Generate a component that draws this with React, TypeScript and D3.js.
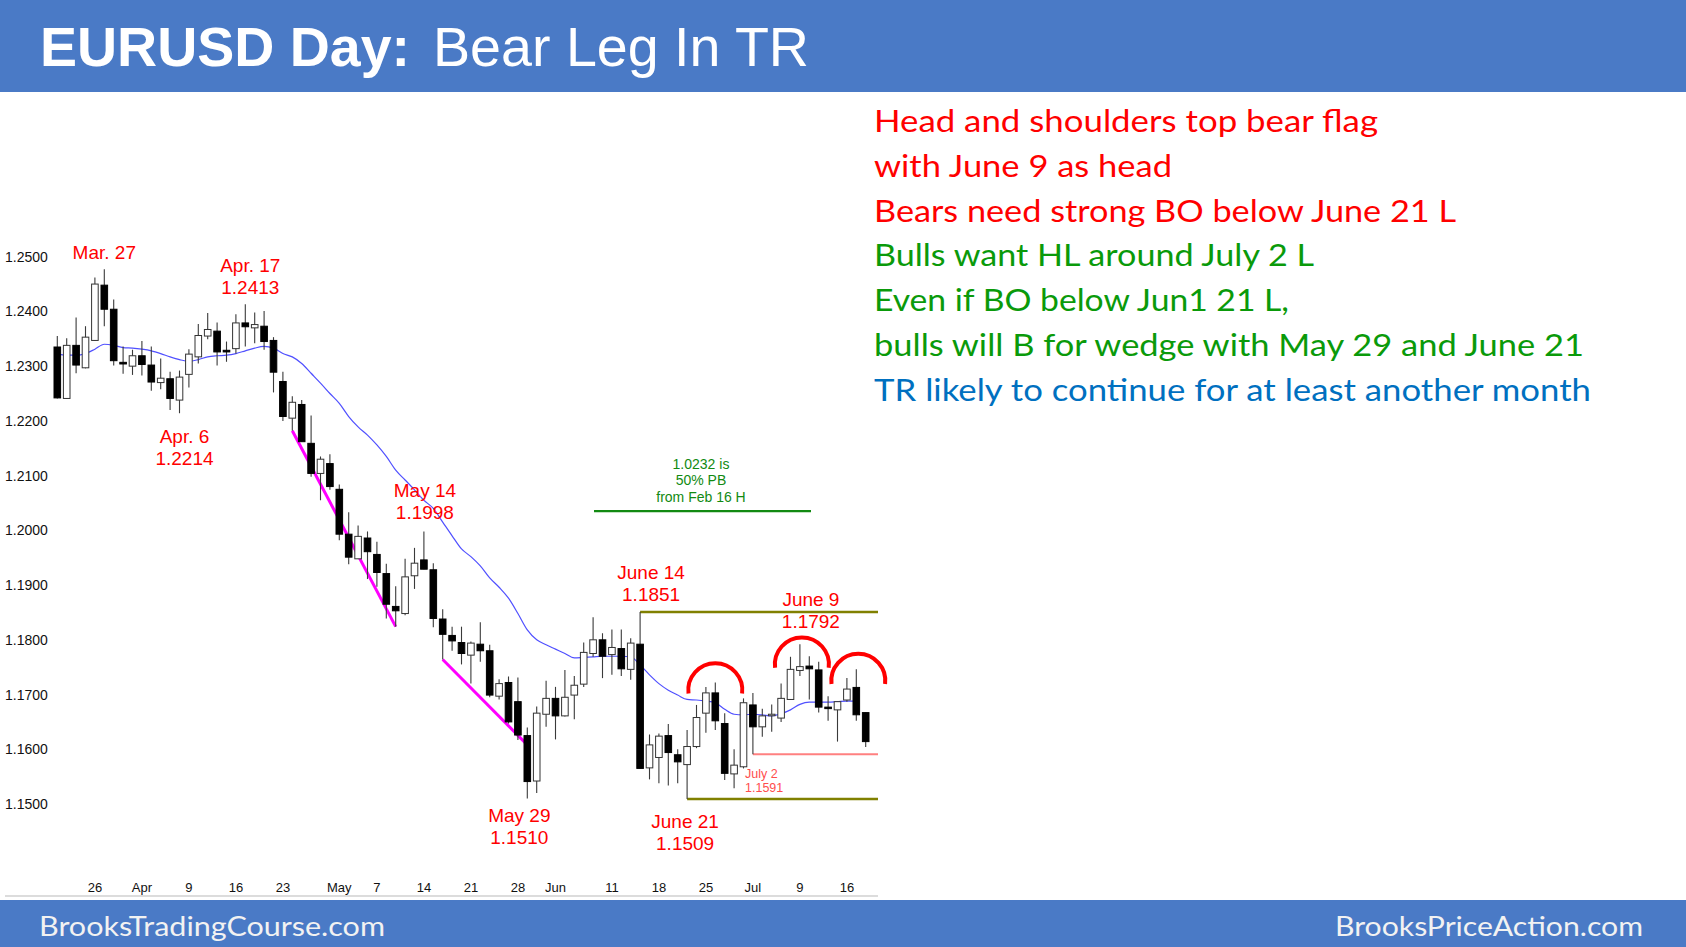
import * as d3 from "d3";

const W = 1686;
const H = 947;
const BLUE_BAR = "#4a7ac6";
const RED = "#ff0000";
const GREEN = "#0a9a0a";
const TEXT_BLUE = "#0070c0";

// daily candles, Mar 20 .. Jul 18 (weekdays)
const opens = [
  1.2335, 1.2241, 1.2338, 1.2297, 1.2347, 1.2448, 1.2404, 1.2307, 1.23, 1.2319,
  1.2302, 1.227, 1.2277, 1.2238, 1.2285, 1.2317, 1.2355, 1.2364, 1.2329, 1.2332,
  1.2379, 1.237, 1.2373, 1.2347, 1.2272, 1.2205, 1.223, 1.2159, 1.2104, 1.2122,
  1.2075, 1.1993, 1.1948, 1.1986, 1.1956, 1.1921, 1.1861, 1.1848, 1.1917, 1.1946,
  1.1928, 1.1838, 1.1808, 1.1795, 1.1772, 1.1792, 1.178, 1.1697, 1.1722, 1.1687,
  1.1625, 1.1542, 1.1664, 1.1693, 1.1661, 1.1699, 1.1719, 1.1775, 1.18, 1.1773,
  1.1784, 1.1746, 1.1792, 1.1566, 1.1585, 1.1625, 1.159, 1.1572, 1.1605, 1.1666,
  1.1703, 1.1647, 1.1555, 1.1568, 1.1681, 1.1641, 1.1662, 1.1657, 1.1691, 1.1744,
  1.1752, 1.1745, 1.1677, 1.1672, 1.169, 1.1713, 1.1667,
];
const highs = [
  1.2355, 1.2351, 1.2389, 1.2373, 1.2462, 1.2477, 1.2422, 1.2336, 1.233, 1.2346,
  1.2336, 1.2314, 1.229, 1.2292, 1.2331, 1.2377, 1.2397, 1.238, 1.2345, 1.2395,
  1.2413, 1.2398, 1.2401, 1.2353, 1.229, 1.2245, 1.2238, 1.221, 1.2135, 1.2139,
  1.2084, 1.2033, 1.2009, 1.1998, 1.1979, 1.1939, 1.1898, 1.1948, 1.1968, 1.1998,
  1.194, 1.1856, 1.1824, 1.1824, 1.1797, 1.1832, 1.1791, 1.1728, 1.1733, 1.1731,
  1.164, 1.1678, 1.1725, 1.1714, 1.1745, 1.1734, 1.1795, 1.1841, 1.1812, 1.1819,
  1.1819, 1.1803, 1.1851, 1.1627, 1.1629, 1.1646, 1.16, 1.1635, 1.1681, 1.1714,
  1.1722, 1.1666, 1.16, 1.1693, 1.1703, 1.1674, 1.1682, 1.172, 1.1769, 1.1792,
  1.177, 1.176, 1.1697, 1.1687, 1.173, 1.1746, 1.1667,
];
const lows = [
  1.2241, 1.224, 1.2287, 1.2296, 1.2346, 1.2373, 1.2301, 1.2286, 1.2284, 1.2283,
  1.2255, 1.2258, 1.222, 1.2214, 1.2261, 1.2305, 1.2349, 1.2301, 1.2308, 1.2323,
  1.2336, 1.2342, 1.233, 1.2252, 1.22, 1.2182, 1.2162, 1.2098, 1.2055, 1.2074,
  1.1982, 1.1938, 1.1948, 1.1911, 1.1897, 1.1839, 1.1824, 1.1845, 1.1893, 1.1929,
  1.1823, 1.1764, 1.178, 1.1755, 1.172, 1.176, 1.1695, 1.1691, 1.1647, 1.1617,
  1.151, 1.152, 1.1641, 1.1618, 1.166, 1.1655, 1.1714, 1.1769, 1.173, 1.1736,
  1.1734, 1.1727, 1.1565, 1.1545, 1.1538, 1.1534, 1.1538, 1.1509, 1.1602, 1.163,
  1.1635, 1.1544, 1.1529, 1.1565, 1.1591, 1.1623, 1.1632, 1.165, 1.169, 1.1734,
  1.1691, 1.1667, 1.1652, 1.1614, 1.1687, 1.1652, 1.1604,
];
const closes = [
  1.2242, 1.2338, 1.2302, 1.2353, 1.245, 1.2404, 1.231, 1.2304, 1.2319, 1.2303,
  1.2271, 1.2278, 1.2241, 1.228, 1.2322, 1.2356, 1.2367, 1.2326, 1.2326, 1.2379,
  1.2372, 1.2376, 1.2345, 1.2289, 1.2208, 1.2234, 1.2162, 1.2104, 1.213, 1.208,
  1.1993, 1.1951, 1.1989, 1.1961, 1.1923, 1.1865, 1.1853, 1.1915, 1.194, 1.1929,
  1.1839, 1.181, 1.1798, 1.1775, 1.1794, 1.178, 1.1699, 1.172, 1.165, 1.1626,
  1.1541, 1.1666, 1.1693, 1.1661, 1.1695, 1.1717, 1.1777, 1.18, 1.177, 1.1786,
  1.1747, 1.1794, 1.1565, 1.1608, 1.1624, 1.1594, 1.1577, 1.1605, 1.1658, 1.1703,
  1.1652, 1.1556, 1.1571, 1.1685, 1.1641, 1.1661, 1.1664, 1.1693, 1.1746, 1.1751,
  1.1747, 1.1677, 1.1675, 1.1687, 1.171, 1.1663, 1.1614,
];
// moving average as drawn on the chart (ends one bar early)
const movingAvg = [
  1.2322, 1.232, 1.232, 1.2323, 1.2331, 1.234, 1.2338, 1.2334, 1.2333, 1.2331,
  1.2328, 1.2323, 1.2317, 1.2312, 1.2309, 1.2312, 1.2317, 1.2319, 1.232, 1.2323,
  1.2328, 1.2333, 1.2336, 1.2333, 1.2323, 1.2317, 1.2305, 1.2287, 1.2269, 1.225,
  1.2232, 1.2208, 1.2189, 1.2174, 1.2156, 1.2135, 1.211, 1.2092, 1.2074, 1.2055,
  1.204, 1.2015, 1.199, 1.1966, 1.1952, 1.1935, 1.1913, 1.1896, 1.1876, 1.1848,
  1.1818, 1.18, 1.1791, 1.1783, 1.1775, 1.1767, 1.1768, 1.1769, 1.177, 1.177,
  1.177, 1.1769, 1.1754, 1.1736, 1.172, 1.1708, 1.1699, 1.1691, 1.169, 1.1688,
  1.1685, 1.1673, 1.1664, 1.1663, 1.1664, 1.1663, 1.1661, 1.1665, 1.1672, 1.1682,
  1.1686, 1.1686, 1.1686, 1.1687, 1.1688, 1.1688, null,
];

const priceTicks = [1.15, 1.16, 1.17, 1.18, 1.19, 1.2, 1.21, 1.22, 1.23, 1.24, 1.25];
const dateTickIndex = [4, 9, 14, 19, 24, 30, 34, 39, 44, 49, 53, 59, 64, 69, 74, 79, 84];
const dateTickLabels = ["26", "Apr", "9", "16", "23", "May", "7", "14", "21", "28", "Jun", "11", "18", "25", "Jul", "9", "16"];

const pointLabels = [
  { i: 5, dx: 0, y: 259, lines: ["Mar. 27"] },
  { i: 20, dx: 5, y: 272, lines: ["Apr. 17", "1.2413"] },
  { i: 13, dx: 5, y: 443, lines: ["Apr. 6", "1.2214"] },
  { i: 39, dx: 1, y: 497, lines: ["May 14", "1.1998"] },
  { i: 62, dx: 11, y: 579, lines: ["June 14", "1.1851"] },
  { i: 79, dx: 11, y: 606, lines: ["June 9", "1.1792"] },
  { i: 50, dx: -8, y: 822, lines: ["May 29", "1.1510"] },
  { i: 67, dx: -2, y: 828, lines: ["June 21", "1.1509"] },
];

const commentLines = [
  { text: "Head and shoulders top bear flag", color: RED, width: 504 },
  { text: "with June 9 as head", color: RED, width: 298 },
  { text: "Bears need strong BO below June 21 L", color: RED, width: 582 },
  { text: "Bulls want HL around July 2 L", color: GREEN, width: 440 },
  { text: "Even if BO below Jun1 21 L,", color: GREEN, width: 415 },
  { text: "bulls will B for wedge with May 29 and June 21", color: GREEN, width: 710 },
  { text: "TR likely to continue for at least another month", color: TEXT_BLUE, width: 717 },
];

const pbNote = ["1.0232 is", "50% PB", "from Feb 16 H"];
const trendLines = [
  [[25, 1.2182], [36, 1.1824]],
  [[41, 1.1764], [50, 1.1608]],
];
const shoulders = [
  { i: 70, dx: 0, price: 1.1708 },
  { i: 79, dx: 2, price: 1.1755 },
  { i: 85, dx: 2, price: 1.1725 },
];

const RIGHT_END = 878;

export default function App() {
  const x = d3.scaleLinear().domain([0, 86]).range([57.3, 57.3 + 9.4 * 86]);
  const y = d3.scaleLinear().domain([1.15, 1.25]).range([804, 256.7]);
  const bodyW = 6.6;

  const maLine = d3
    .line<number | null>()
    .defined((d) => d != null)
    .x((_, i) => x(i))
    .y((d) => y(d as number))
    .curve(d3.curveMonotoneX);

  const arcPath = (cx: number, cy: number, r: number) => {
    const p = d3.path();
    const a0 = Math.PI - 0.12;
    const a1 = 2 * Math.PI + 0.12;
    p.moveTo(cx + r * Math.cos(a0), cy + r * Math.sin(a0));
    p.arc(cx, cy, r, a0, a1, false);
    return p.toString();
  };

  const arial = "'Liberation Sans', Arial, sans-serif";
  const soft = "Lato, 'Open Sans', sans-serif";

  return (
    <div style={{ position: "absolute", left: 0, top: 0 }}>
      <svg width={W} height={H} style={{ display: "block", background: "#fff" }}>
        {/* header */}
        <rect x={0} y={0} width={W} height={92} fill={BLUE_BAR} />
        <text x={40} y={66} fontFamily={arial} fontWeight="bold" fontSize={56} fill="#fff"
          textLength={370} lengthAdjust="spacingAndGlyphs">EURUSD Day:</text>
        <text x={433} y={66} fontFamily={arial} fontSize={56} fill="#fff"
          textLength={376} lengthAdjust="spacingAndGlyphs">Bear Leg In TR</text>

        {/* footer */}
        <rect x={0} y={900} width={W} height={47} fill={BLUE_BAR} />
        <text x={39} y={935.5} fontFamily={soft} fontSize={26} fill="#f2f2f2"
          textLength={346} lengthAdjust="spacingAndGlyphs">BrooksTradingCourse.com</text>
        <text x={1335} y={935.5} fontFamily={soft} fontSize={26} fill="#f2f2f2"
          textLength={308} lengthAdjust="spacingAndGlyphs">BrooksPriceAction.com</text>

        {/* axis baseline */}
        <line x1={5} x2={RIGHT_END} y1={896} y2={896} stroke="#dcdcdc" strokeWidth={2} />

        {/* y labels */}
        {priceTicks.map((v) => (
          <text key={v} x={5} y={y(v)} dy="0.36em" fontFamily={arial} fontSize={14} fill="#111">
            {d3.format(".4f")(v)}
          </text>
        ))}

        {/* x labels */}
        {dateTickIndex.map((idx, j) => (
          <text key={idx} x={x(idx)} y={892} textAnchor="middle"
            fontFamily="'Liberation Sans Narrow', 'Arial Narrow', 'Liberation Sans', sans-serif"
            fontSize={13} fill="#111">
            {dateTickLabels[j]}
          </text>
        ))}

        {/* range lines */}
        <line x1={x(62)} x2={RIGHT_END} y1={y(1.1851)} y2={y(1.1851)} stroke="#808000" strokeWidth={2.5} />
        <line x1={x(67)} x2={RIGHT_END} y1={y(1.1509)} y2={y(1.1509)} stroke="#808000" strokeWidth={2.5} />
        <line x1={x(74)} x2={RIGHT_END} y1={y(1.1591)} y2={y(1.1591)} stroke="#ff8080" strokeWidth={2} />
        <line x1={594} x2={811} y1={y(1.2035)} y2={y(1.2035)} stroke="#128a12" strokeWidth={2.2} />

        {/* trend lines */}
        {trendLines.map((seg, i) => (
          <line key={i} x1={x(seg[0][0])} y1={y(seg[0][1])} x2={x(seg[1][0])} y2={y(seg[1][1])}
            stroke="#ff00ff" strokeWidth={3} />
        ))}

        {/* moving average */}
        <path d={maLine(movingAvg) || ""} fill="none" stroke="#5050ff" strokeWidth={1.2} />

        {/* candles */}
        {opens.map((o, i) => {
          const c = closes[i];
          const up = c >= o;
          const top = y(Math.max(o, c));
          const bot = y(Math.min(o, c));
          return (
            <g key={i}>
              <line x1={x(i)} x2={x(i)} y1={y(highs[i])} y2={y(lows[i])} stroke="#3a3a3a" strokeWidth={1.1} />
              <rect x={x(i) - bodyW / 2} y={top} width={bodyW} height={Math.max(bot - top, 1.5)}
                fill={up ? "#fff" : "#000"} stroke={up ? "#333" : "#000"} strokeWidth={1} />
            </g>
          );
        })}

        {/* head and shoulders arcs */}
        {shoulders.map((s, i) => (
          <path key={i} d={arcPath(x(s.i) + s.dx, y(s.price), 27)} fill="none" stroke={RED} strokeWidth={4} />
        ))}

        {/* point labels */}
        {pointLabels.map((l, i) => (
          <text key={i} x={x(l.i) + l.dx} y={l.y} textAnchor="middle" fontFamily={arial} fontSize={19} fill={RED}>
            {l.lines.map((s, j) => (
              <tspan key={j} x={x(l.i) + l.dx} dy={j === 0 ? 0 : 22}>{s}</tspan>
            ))}
          </text>
        ))}
        <text x={745} y={778} fontFamily={arial} fontSize={12.5} fill="#ff4d4d">
          <tspan x={745}>July 2</tspan>
          <tspan x={745} dy={14}>1.1591</tspan>
        </text>

        {/* PB note */}
        {pbNote.map((s, i) => (
          <text key={s} x={701} y={469 + i * 16.4} textAnchor="middle" fontFamily={arial} fontSize={14} fill="#128a12">
            {s}
          </text>
        ))}

        {/* commentary */}
        {commentLines.map((l, i) => (
          <text key={i} x={874} y={131.7 + i * 44.9} fontFamily={soft} fontSize={30} fill={l.color}
            textLength={l.width} lengthAdjust="spacingAndGlyphs">
            {l.text}
          </text>
        ))}
      </svg>
    </div>
  );
}
